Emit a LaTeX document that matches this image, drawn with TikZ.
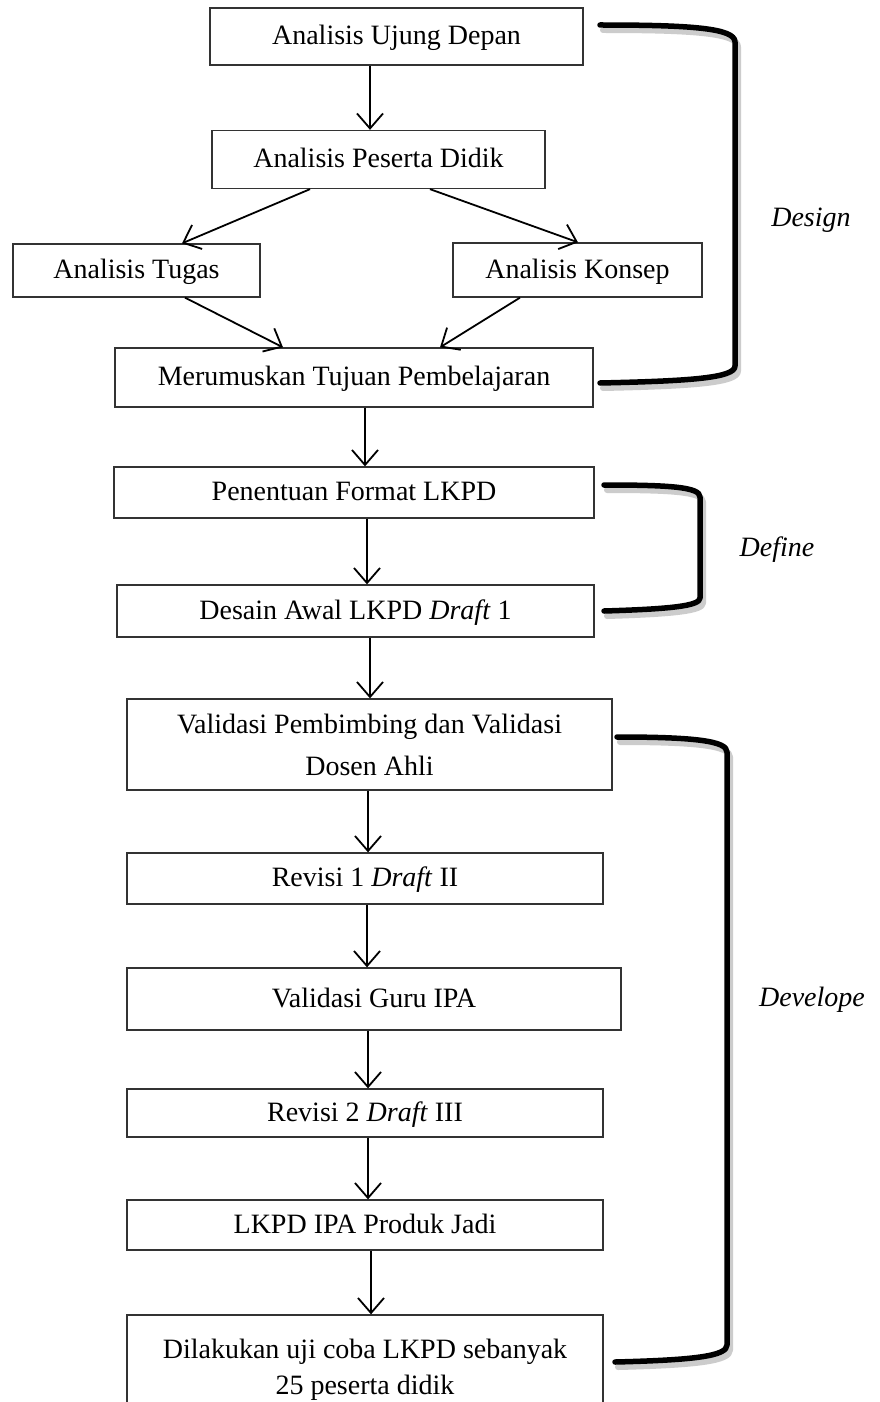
\documentclass[tikz,border=0pt]{standalone}
\usepackage{fontspec}
\setmainfont{Liberation Serif}
\usetikzlibrary{arrows.meta}
\begin{document}
\begin{tikzpicture}[x=1pt,y=-1pt,
  box/.style={draw=black!80, line width=1.3pt, inner sep=0pt, align=center, text height=22pt, text depth=6pt, font=\fontsize{28}{42}\selectfont},
  arr/.style={-{Straight Barb[length=15pt,width=26pt]}, line width=1.8pt},
  brace/.style={line width=5.5pt, line cap=round, line join=round},
  braceshadow/.style={line width=6pt, draw=black!20, line cap=round, line join=round},
  lbl/.style={font=\fontsize{28}{34}\selectfont\itshape}]
\useasboundingbox (0,0) rectangle (879,1402);
\clip (0,0) rectangle (879,1402);
\fill[white] (0,0) rectangle (879,1402);
% boxes
\node[box, minimum width=373pt, minimum height=57pt] (A) at (396.5,36.5) {Analisis Ujung Depan};
\node[box, minimum width=333pt, minimum height=58pt] (B) at (378.5,159.5) {Analisis Peserta Didik};
\node[box, minimum width=247pt, minimum height=53pt] (C) at (136.5,270.5) {Analisis Tugas};
\node[box, minimum width=249pt, minimum height=54pt] (D) at (577.5,270) {Analisis Konsep};
\node[box, minimum width=478pt, minimum height=59pt] (E) at (354,377.5) {Merumuskan Tujuan Pembelajaran};
\node[box, minimum width=480pt, minimum height=51pt] (F) at (354,492.5) {Penentuan Format LKPD};
\node[box, minimum width=477pt, minimum height=52pt] (G) at (355.5,611) {Desain Awal LKPD \textit{Draft} 1};
\node[box, text height=, text depth=, minimum width=485pt, minimum height=91pt] (H) at (369.5,744.5) {Validasi Pembimbing dan Validasi\\Dosen Ahli};
\node[box, minimum width=476pt, minimum height=51pt] (I) at (365,878.5) {Revisi 1 \textit{Draft} II};
\node[box, minimum width=494pt, minimum height=62pt] (J) at (374,999) {Validasi Guru IPA};
\node[box, minimum width=476pt, minimum height=48pt] (K) at (365,1113) {Revisi 2 \textit{Draft} III};
\node[box, minimum width=476pt, minimum height=50pt] (L) at (365,1225) {LKPD IPA Produk Jadi};
\node[box, text height=, text depth=, font=\fontsize{28}{36}\selectfont, minimum width=476pt, minimum height=110pt] (M) at (365,1370) {Dilakukan uji coba LKPD sebanyak\\25 peserta didik};
% arrows
\draw[arr] (A.south -| 370,0) -- (B.north -| 370,0);
\draw[arr] (B.south -| 310,0) -- (C.north -| 182,0);
\draw[arr] (B.south -| 430,0) -- (D.north -| 578,0);
\draw[arr] (C.south -| 185,0) -- (E.north -| 283,0);
\draw[arr] (D.south -| 520,0) -- (E.north -| 440,0);
\draw[arr] (E.south -| 365,0) -- (F.north -| 365,0);
\draw[arr] (F.south -| 367,0) -- (G.north -| 367,0);
\draw[arr] (G.south -| 370,0) -- (H.north -| 370,0);
\draw[arr] (H.south -| 368,0) -- (I.north -| 368,0);
\draw[arr] (I.south -| 367,0) -- (J.north -| 367,0);
\draw[arr] (J.south -| 368,0) -- (K.north -| 368,0);
\draw[arr] (K.south -| 368,0) -- (L.north -| 368,0);
\draw[arr] (L.south -| 371,0) -- (M.north -| 371,0);
% braces: shadows
\begin{scope}[shift={(3,5)}]
\draw[braceshadow] (600,25) .. controls (690,25) and (735,28) .. (735,42) -- (735,366) .. controls (735,378) and (690,381) .. (600,383);
\draw[braceshadow] (604,485) .. controls (670,485) and (700,487) .. (700,497) -- (700,598) .. controls (700,606) and (670,609) .. (604,611);
\draw[braceshadow] (617,737) .. controls (695,737) and (727,741) .. (727,752) -- (727,1345) .. controls (727,1356) and (695,1360) .. (615,1362);
\end{scope}
\draw[brace] (600,25) .. controls (690,25) and (735,28) .. (735,42) -- (735,366) .. controls (735,378) and (690,381) .. (600,383);
\draw[brace] (604,485) .. controls (670,485) and (700,487) .. (700,497) -- (700,598) .. controls (700,606) and (670,609) .. (604,611);
\draw[brace] (617,737) .. controls (695,737) and (727,741) .. (727,752) -- (727,1345) .. controls (727,1356) and (695,1360) .. (615,1362);
% labels
\node[lbl] (design) at (811,220) {Design};
\node[lbl] (define) at (777,550) {Define};
\node[lbl] (develope) at (812,1000) {Develope};
\end{tikzpicture}
\end{document}
